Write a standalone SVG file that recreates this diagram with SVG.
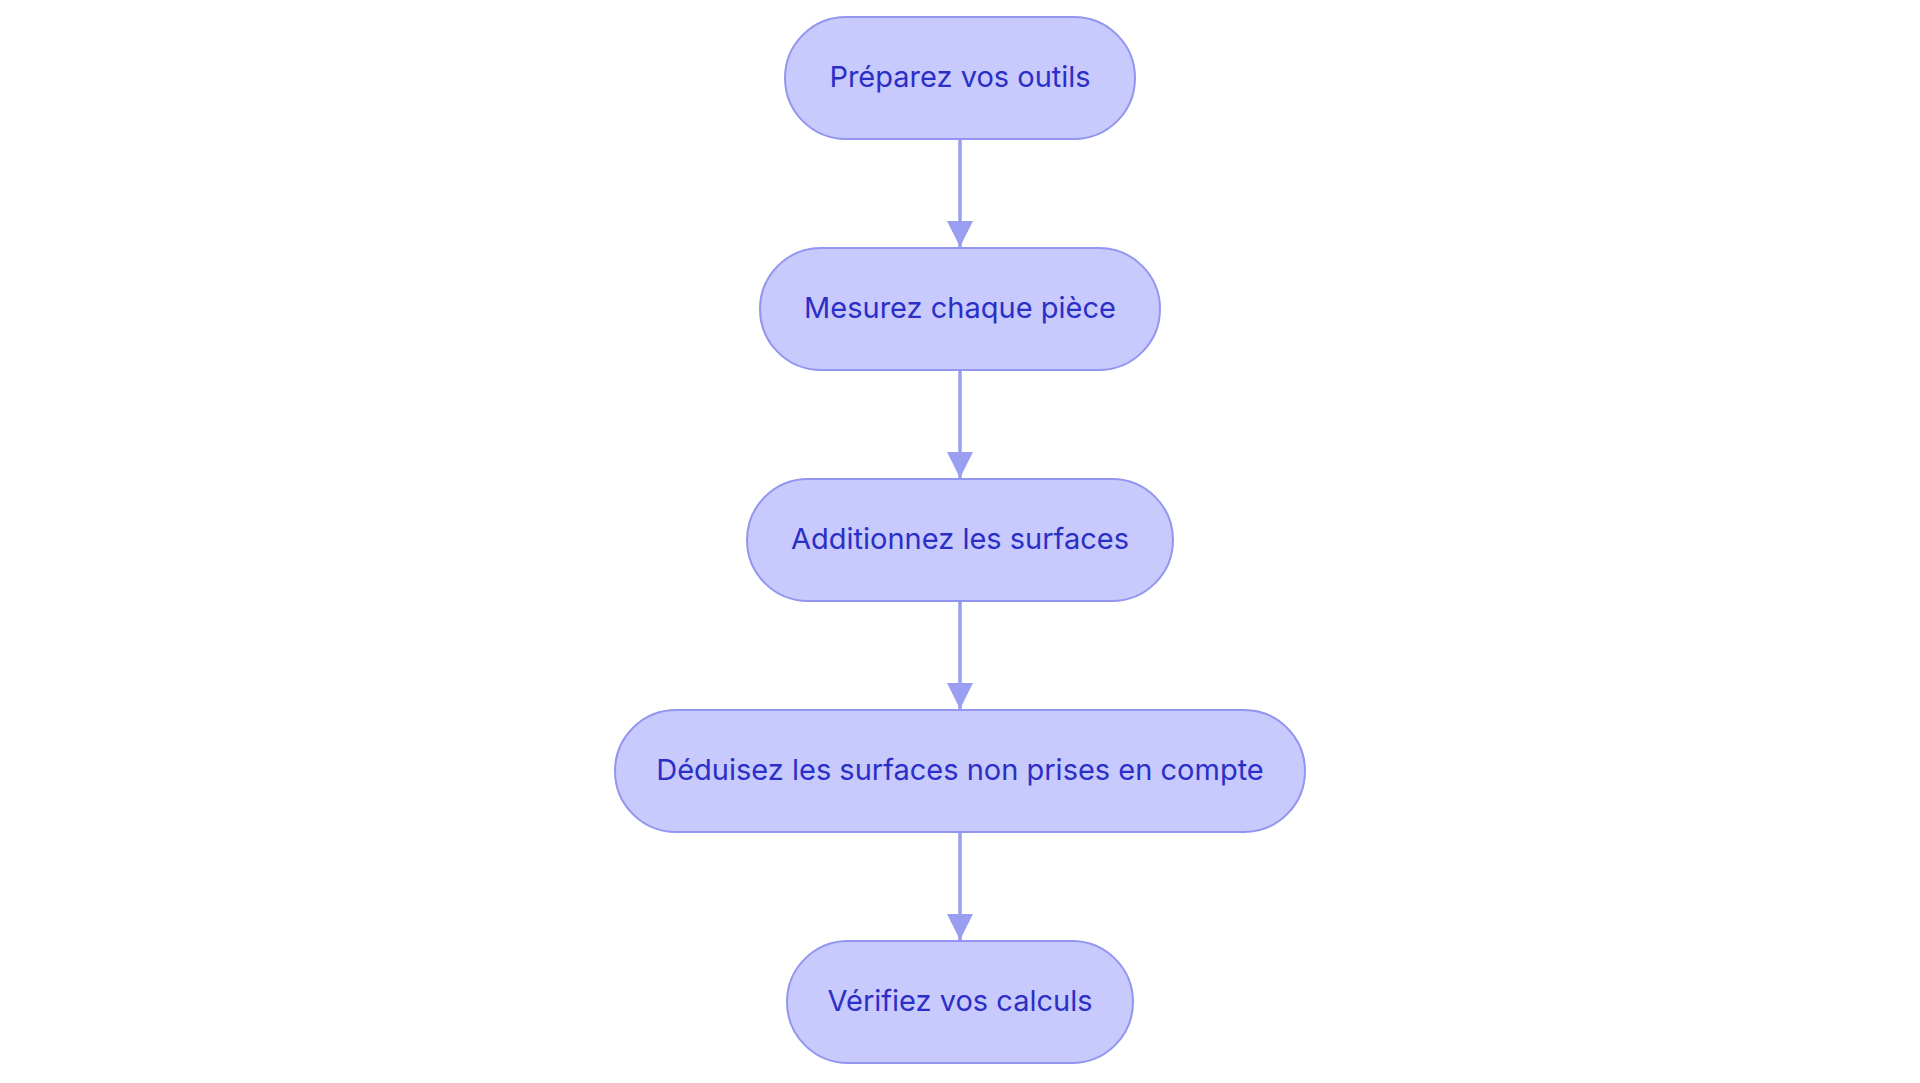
<svg xmlns="http://www.w3.org/2000/svg" width="1920" height="1083" viewBox="0 0 1920 1083">
<style>
.node rect{fill:#C8C9FC;stroke:#9296EE;stroke-width:2}
.node text{font-family:Inter,"Noto Sans","Liberation Sans",sans-serif;font-size:29px;fill:#2B2FC6;text-anchor:middle}
.edge{stroke:#9A9EF0;stroke-width:3.5;fill:none}
</style>
<defs>
<marker id="arrow" viewBox="0 0 10 10" refX="10" refY="5" markerUnits="userSpaceOnUse" markerWidth="26" markerHeight="27" orient="auto">
<path d="M0,0 L10,5 L0,10 z" fill="#9A9EF0"/>
</marker>
</defs>
<rect width="1920" height="1083" fill="#FFFFFF"/>
<g id="connectors">
<line class="edge" x1="960" y1="139" x2="960" y2="247" marker-end="url(#arrow)"/>
<line class="edge" x1="960" y1="370" x2="960" y2="478" marker-end="url(#arrow)"/>
<line class="edge" x1="960" y1="601" x2="960" y2="709" marker-end="url(#arrow)"/>
<line class="edge" x1="960" y1="832" x2="960" y2="940" marker-end="url(#arrow)"/>
</g>
<g id="node1" class="node"><rect x="785" y="17" width="350" height="122" rx="61" ry="61"/><text x="960" y="86.5">Préparez vos outils</text></g>
<g id="node2" class="node"><rect x="760" y="248" width="400" height="122" rx="61" ry="61"/><text x="960" y="317.5">Mesurez chaque pièce</text></g>
<g id="node3" class="node"><rect x="747" y="479" width="426" height="122" rx="61" ry="61"/><text x="960" y="548.5">Additionnez les surfaces</text></g>
<g id="node4" class="node"><rect x="615" y="710" width="690" height="122" rx="61" ry="61"/><text x="960" y="779.5">Déduisez les surfaces non prises en compte</text></g>
<g id="node5" class="node"><rect x="787" y="941" width="346" height="122" rx="61" ry="61"/><text x="960" y="1010.5">Vérifiez vos calculs</text></g>
</svg>
